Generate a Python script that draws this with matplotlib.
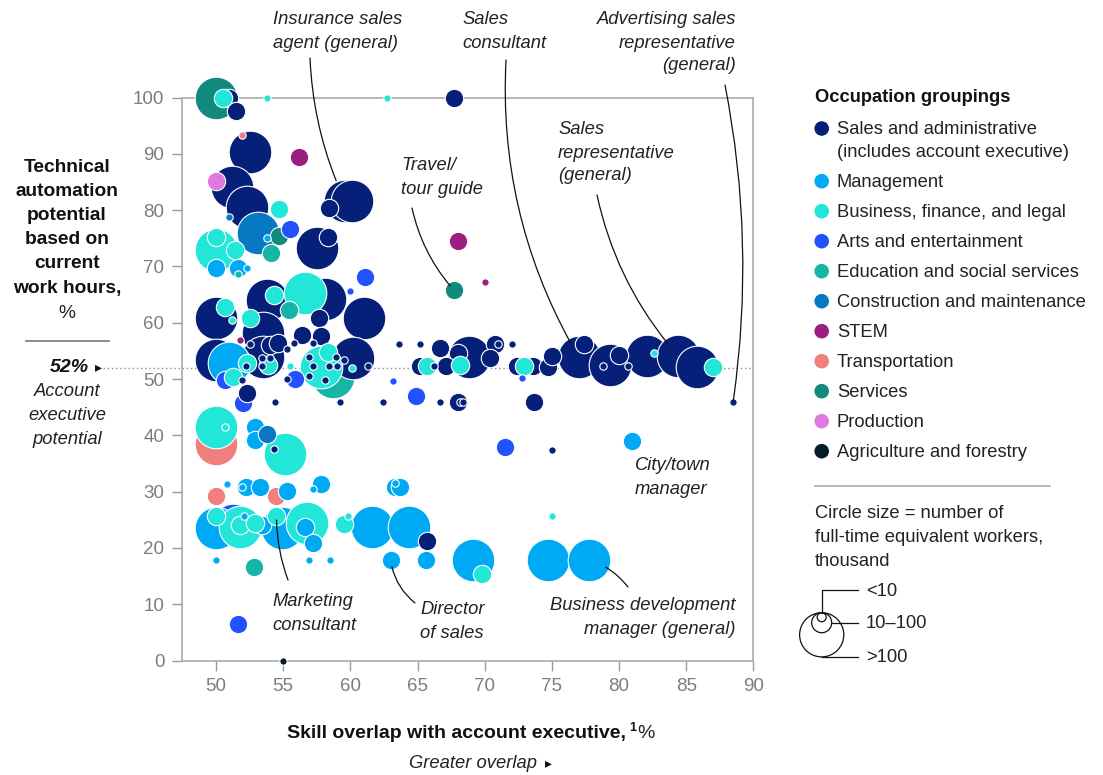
import matplotlib
matplotlib.use("Agg")
import matplotlib.pyplot as plt
from matplotlib.patches import Circle
from matplotlib.transforms import blended_transform_factory

plt.rcParams["font.family"] = ["Liberation Sans", "DejaVu Sans"]

W, H, DPI = 1103, 775, 100

# size class of each bubble: 1 = <10, 2 = 10-100, 3 = >100 thousand FTE workers
sales_x = [51.0, 51.5, 67.7, 52.5, 51.2, 52.3, 57.5, 58.3, 59.6, 60.1,
           58.4, 50.0, 53.8, 58.1, 57.7, 61.0, 50.0, 52.2, 52.5, 53.5,
           53.5, 54.0, 54.6, 55.3, 55.8, 56.4, 57.8, 57.2, 53.4, 54.0,
           53.4, 55.3, 51.9, 52.3, 54.4, 59.2, 62.4, 60.2, 56.9, 57.2,
           56.9, 58.1, 58.9, 59.5, 59.0, 58.4, 61.3, 63.6, 65.2, 66.7,
           68.8, 68.0, 70.8, 71.0, 70.4, 72.0, 65.2, 66.2, 67.1, 72.4,
           73.6, 74.7, 75.0, 77.0, 77.4, 79.3, 80.0, 78.8, 80.7, 82.1,
           84.4, 85.8, 88.5, 66.7, 68.0, 73.7, 75.0, 65.7, 54.3, 68.2,
           68.4]
sales_y = [100, 97.6, 100, 90.4, 84.1, 80.6, 73.3, 75.2, 81.6, 81.6,
           80.4, 60.8, 64.0, 64.2, 60.8, 60.8, 53.4, 52.3, 56.2, 58.2,
           53.9, 56.0, 56.4, 55.3, 56.4, 57.8, 57.6, 56.4, 53.7, 53.7,
           52.3, 50.0, 49.8, 47.5, 45.9, 45.9, 45.9, 53.7, 53.9, 52.3,
           50.5, 49.8, 53.9, 53.4, 52.3, 52.3, 52.3, 56.2, 56.2, 55.5,
           53.9, 54.6, 56.2, 56.2, 53.7, 56.2, 52.3, 52.3, 52.3, 52.3,
           52.3, 52.1, 54.1, 53.9, 56.2, 52.5, 54.3, 52.3, 52.3, 54.1,
           54.1, 52.1, 45.9, 45.9, 45.9, 45.9, 37.4, 21.2, 37.6, 45.9,
           45.9]
sales_n = [2, 2, 2, 3, 3, 3, 3, 2, 3, 3,
           2, 3, 3, 3, 2, 3, 3, 1, 1, 3,
           3, 2, 2, 1, 1, 2, 2, 1, 1, 1,
           1, 1, 1, 2, 1, 1, 1, 3, 1, 1,
           1, 1, 1, 1, 1, 1, 1, 1, 1, 2,
           3, 2, 2, 1, 2, 1, 2, 1, 2, 2,
           2, 2, 2, 3, 2, 3, 2, 1, 1, 3,
           3, 3, 1, 1, 2, 2, 1, 2, 1, 1,
           1]

mgmt_x = [50.0, 51.6, 52.3, 51.0, 52.9, 52.9, 50.8, 52.2, 53.3, 55.3,
          57.8, 57.2, 50.0, 52.1, 53.4, 54.9, 56.6, 57.2, 61.6, 64.4,
          63.3, 63.7, 63.0, 65.6, 69.1, 74.7, 77.8, 81.0, 50.0, 56.9,
          58.5, 53.8, 63.3, 51.9]
mgmt_y = [69.7, 69.7, 69.7, 52.8, 41.5, 39.2, 31.3, 30.8, 30.8, 30.1,
          31.3, 30.5, 23.5, 25.7, 24.1, 23.5, 23.7, 20.9, 23.7, 23.7,
          30.8, 30.8, 17.9, 17.9, 17.9, 17.9, 17.9, 39.0, 17.9, 17.9,
          17.9, 75.0, 31.5, 30.8]
mgmt_n = [2, 2, 1, 3, 2, 2, 1, 2, 2, 2,
          2, 1, 3, 1, 2, 3, 2, 2, 3, 3,
          2, 2, 2, 2, 3, 3, 3, 2, 1, 1,
          1, 1, 1, 1]

biz_x = [50.5, 53.8, 62.7, 54.7, 50.0, 50.0, 51.4, 50.7, 51.2, 52.5,
         54.3, 56.6, 51.3, 52.3, 53.9, 55.5, 57.8, 58.3, 60.1, 65.7,
         68.2, 72.9, 82.6, 87.0, 50.0, 55.1, 50.0, 51.8, 51.8, 52.9,
         54.5, 56.8, 59.5, 59.8, 75.0, 69.8, 50.7]
biz_y = [100, 100, 100, 80.2, 72.9, 75.2, 73.0, 62.8, 60.4, 60.8,
         64.9, 65.3, 50.4, 52.8, 52.5, 52.3, 52.1, 54.8, 52.0, 52.3,
         52.5, 52.3, 54.6, 52.1, 41.5, 36.7, 25.7, 23.7, 24.1, 24.4,
         25.7, 24.4, 24.2, 25.7, 25.7, 15.4, 41.5]
biz_n = [2, 1, 1, 2, 3, 2, 2, 2, 1, 2,
         2, 3, 2, 2, 2, 1, 3, 2, 1, 2,
         2, 2, 1, 2, 3, 3, 2, 3, 2, 2,
         2, 3, 2, 1, 1, 2, 1]

arts_x = [55.5, 61.1, 60.0, 50.7, 55.9, 52.0, 63.2, 64.9, 72.8, 71.5, 51.3, 51.6]
arts_y = [76.6, 68.1, 65.6, 49.8, 50.0, 45.7, 49.6, 47.0, 50.2, 37.9, 24.1, 6.5]
arts_n = [2, 2, 1, 2, 2, 2, 1, 2, 1, 2, 3, 2]

edu_x = [54.1, 51.6, 55.4, 58.7, 52.8]
edu_y = [72.4, 68.6, 62.3, 50.4, 16.6]
edu_n = [2, 1, 2, 3, 2]

con_x = [51.0, 53.1, 53.8]
con_y = [78.8, 75.9, 40.3]
con_n = [1, 3, 2]

stem_x = [56.2, 51.8, 68.0, 70.0]
stem_y = [89.4, 56.9, 74.5, 67.2]
stem_n = [2, 1, 2, 1]

trans_x = [51.9, 50.0, 50.0, 54.5]
trans_y = [93.3, 38.4, 29.2, 29.2]
trans_n = [1, 3, 2, 2]

serv_x = [50.0, 54.7, 67.7]
serv_y = [100, 75.4, 65.8]
serv_n = [3, 2, 2]

prod_x = [50.0]
prod_y = [85.2]
prod_n = [2]

agri_x = [55.0]
agri_y = [0]
agri_n = [1]

account_exec_potential = 52

groups = [
    ("sales", ["Sales and administrative", "(includes account executive)"], "#061f79", sales_x, sales_y, sales_n),
    ("mgmt", ["Management"], "#00a9f4", mgmt_x, mgmt_y, mgmt_n),
    ("biz", ["Business, finance, and legal"], "#22e6d8", biz_x, biz_y, biz_n),
    ("arts", ["Arts and entertainment"], "#2251ff", arts_x, arts_y, arts_n),
    ("edu", ["Education and social services"], "#16b5a5", edu_x, edu_y, edu_n),
    ("con", ["Construction and maintenance"], "#0779c2", con_x, con_y, con_n),
    ("stem", ["STEM"], "#9b1f80", stem_x, stem_y, stem_n),
    ("trans", ["Transportation"], "#f07f7e", trans_x, trans_y, trans_n),
    ("serv", ["Services"], "#11897c", serv_x, serv_y, serv_n),
    ("prod", ["Production"], "#e07ae0", prod_x, prod_y, prod_n),
    ("agri", ["Agriculture and forestry"], "#051c2c", agri_x, agri_y, agri_n),
]
draw_order = ["serv", "trans", "arts", "edu", "sales", "mgmt", "biz", "con", "stem", "prod", "agri"]

# labelled occupations: (text lines, x, y, alignment, text pos px, leader start px, curvature, shrink)
callouts = [
    (["Insurance sales", "agent (general)"], 59.6, 81.6, "left", (273, 20), (310, 58), 0.10, 16),
    (["Sales", "consultant"], 77.0, 53.9, "left", (462, 20), (506, 60), 0.15, 11),
    (["Advertising sales", "representative", "(general)"], 88.5, 45.9, "right", (736, 20), (725, 85), -0.085, 1),
    (["Sales", "representative", "(general)"], 84.4, 54.1, "left", (558, 130), (597, 195), 0.13, 12),
    (["Travel/", "tour guide"], 67.7, 65.8, "left", (401, 166), (412, 208), 0.13, 4),
    (["Marketing", "consultant"], 54.5, 25.7, "left", (272, 602), (288, 580), -0.09, 3),
    (["Director", "of sales"], 63.0, 17.9, "left", (420, 610), (415, 603), -0.2, 5),
    (["Business development", "manager (general)"], 77.8, 17.9, "right", (736, 606), (628, 587), 0.15, 13),
    (["City/town", "manager"], 81.0, 39.0, "left", (635, 466), None, 0, 0),
]

r_px = {1: 3.7, 2: 9.2, 3: 21.3}


def area(n):
    return (2 * r_px[n] * 72 / DPI) ** 2


fig = plt.figure(figsize=(W / DPI, H / DPI), dpi=DPI)
ax = fig.add_axes([181.7 / W, 1 - 660.5 / H, (753.3 - 181.7) / W, (660.5 - 97.5) / H])
ov = fig.add_axes([0, 0, 1, 1], zorder=5)
ov.set_xlim(0, W)
ov.set_ylim(H, 0)
ov.axis("off")
ov.patch.set_alpha(0)

ax.set_xlim(50 - 34.3 / 13.42, 90)
ax.set_ylim(0, 100)

table = {g[0]: g for g in groups}
z = 3
for cls in (3, 2, 1):
    for key in draw_order:
        _, _, color, xs, ys, ns = table[key]
        px = [x for x, n in zip(xs, ns) if n == cls]
        py = [y for y, n in zip(ys, ns) if n == cls]
        if not px:
            continue
        ax.scatter(px, py, s=area(cls), c=color, edgecolors="white",
                   linewidths=0.8, zorder=z, clip_on=False)
        z += 0.01

ax.set_xticks(range(50, 91, 5))
ax.set_yticks(range(0, 101, 10))
ax.tick_params(length=7.5, width=1.0, color="#9a9a9a", labelcolor="#7d7d7d", labelsize=13.5)
ax.tick_params(axis="x", pad=5)
ax.tick_params(axis="y", pad=5)
for sp in ax.spines.values():
    sp.set_color("#aaaaaa")
    sp.set_linewidth(1.2)

# account executive reference line
ax.axhline(account_exec_potential, color="#8a8a8a", lw=1, ls=(0, (1, 2)), zorder=1)
tr = blended_transform_factory(ov.transData, ax.transData)
ov.plot([103, 181.7], [account_exec_potential] * 2, color="#8a8a8a", lw=1,
        ls=(0, (1, 2)), transform=tr)


def lines(x, y0, step, texts, **kw):
    for i, t in enumerate(texts):
        ov.text(x, y0 + i * step, t, va="center", **kw)


TXT = "#222222"
FS = 13.2

# callouts
for texts, bx, by, align, (tx, ty), start, rad, shrink in callouts:
    lines(tx, ty, 23, texts, ha=align, fontsize=FS, style="italic", color=TXT)
    if start is not None:
        ax.annotate("", xy=(bx, by), xytext=start, textcoords=ov.transData,
                    arrowprops=dict(arrowstyle="-", color="#111111", lw=0.9,
                                    connectionstyle=f"arc3,rad={rad}",
                                    shrinkA=0, shrinkB=shrink),
                    annotation_clip=False, zorder=10)

# y axis title
lines(67, 168, 24, ["Technical", "automation", "potential", "based on", "current", "work hours,"],
      ha="center", fontsize=13.8, fontweight="bold", color="#111111")
ov.text(67, 313, "%", ha="center", va="center", fontsize=13.8, color=TXT)
ov.plot([26, 109], [341, 341], color="#777777", lw=1.2)
ov.text(89, 368, f"{account_exec_potential}%", ha="right", va="center", fontsize=14,
        fontweight="bold", style="italic", color="#111111")
ov.text(98, 367, "▸", ha="center", va="center", fontsize=10, color="#111111",
        family="DejaVu Sans")
lines(67, 392, 24, ["Account", "executive", "potential"], ha="center", fontsize=FS,
      style="italic", color=TXT)

# x axis title
ov.text(626, 734, "Skill overlap with account executive,", ha="right", va="center",
        fontsize=14, fontweight="bold", color="#111111")
ov.text(629, 728, "1", ha="left", va="center", fontsize=9, fontweight="bold", color="#111111")
ov.text(637, 734, "%", ha="left", va="center", fontsize=14, color=TXT)
ov.text(537, 763, "Greater overlap", ha="right", va="center", fontsize=FS,
        style="italic", color=TXT)
ov.text(548, 763, "▸", ha="center", va="center", fontsize=10, color="#111111",
        family="DejaVu Sans")

# colour legend
ov.text(815, 98, "Occupation groupings", ha="left", va="center", fontsize=13.2,
        fontweight="bold", color="#111111")
ly = 128.5
for key, label, color, *_ in groups:
    ov.scatter([821.7], [ly], s=110, c=color, edgecolors="none")
    lines(837, ly + 1, 22.7, label, ha="left", fontsize=FS, color=TXT)
    ly += 30 + 22.7 * (len(label) - 1)

ov.plot([815, 1050], [486, 486], color="#aaaaaa", lw=1.2)
lines(815, 514, 23.5, ["Circle size = number of", "full-time equivalent workers,", "thousand"],
      ha="left", fontsize=FS, color=TXT)

# size legend: top aligned circles
top, cx = 612.7, 821.7
rad = {n: r_px[n] + 0.8 for n in r_px}
for n in (3, 2, 1):
    ov.add_patch(Circle((cx, top + rad[n]), rad[n], fill=False, ec="#111111", lw=0.9))
ov.plot([cx, cx, 858], [top, 590, 590], color="#111111", lw=0.9)
ov.plot([cx + rad[2], 858], [top + rad[2]] * 2, color="#111111", lw=0.9)
ov.plot([cx, 858], [top + 2 * rad[3]] * 2, color="#111111", lw=0.9)
ov.text(866, 591, "<10", ha="left", va="center", fontsize=FS, color=TXT)
ov.text(866, top + rad[2] + 1, "10–100", ha="left", va="center", fontsize=FS, color=TXT)
ov.text(866, top + 2 * rad[3] + 1, ">100", ha="left", va="center", fontsize=FS, color=TXT)

fig.savefig("out.png", dpi=DPI)
